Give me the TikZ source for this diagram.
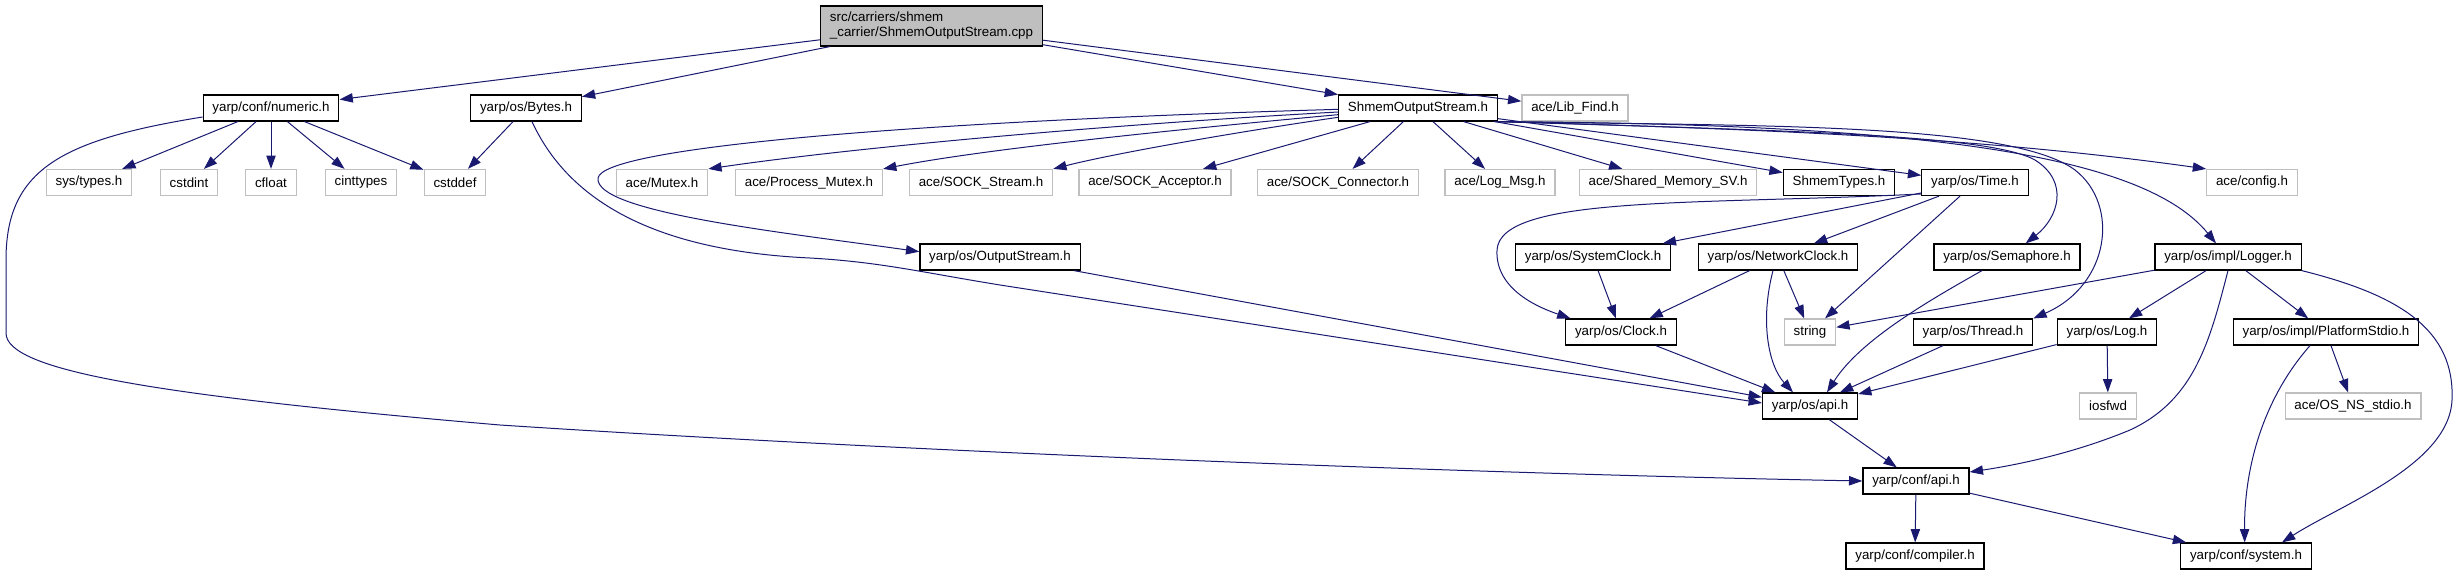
\documentclass[tikz,border=0pt]{standalone}
\usepackage{fontspec}
\setmainfont{Liberation Sans}
\usetikzlibrary{arrows.meta,calc,positioning}
\definecolor{edgeblue}{RGB}{25,25,112}
\definecolor{sysgray}{RGB}{191,191,191}

\begin{document}
\begin{tikzpicture}[x=0.75pt,y=-0.75pt,>={Triangle[length=10pt,width=7pt]},
  font=\fontsize{10}{11.25}\selectfont,
  hdr/.style={draw=black,line width=0.9pt,fill=white,inner xsep=7pt,inner ysep=0pt,minimum height=19.5pt},
  sysbox/.style={hdr,draw=sysgray},
  rootbox/.style={hdr,fill=sysgray,align=left,minimum height=30pt},
  edge/.style={->,edgeblue,line width=0.75pt}]
\useasboundingbox (0,0) rectangle (2456,575);

\node[rootbox] (root) at (931.5,26) {src/carriers/shmem\\\_carrier/ShmemOutputStream.cpp};

\node[hdr] (numeric) at (271,108) {yarp/conf/numeric.h};
\node[hdr] (bytes) at (526,108) {yarp/os/Bytes.h};
\node[hdr] (shmemh) at (1418,108) {ShmemOutputStream.h};
\node[sysbox] (libfind) at (1575,108) {ace/Lib\_Find.h};

\node[sysbox] (systypes) at (89,182.5) {sys/types.h};
\node[sysbox] (cstdint) at (189,182.5) {cstdint};
\node[sysbox] (cfloat) at (271,182.5) {cfloat};
\node[sysbox] (cinttypes) at (361,182.5) {cinttypes};
\node[sysbox] (cstddef) at (455,182.5) {cstddef};
\node[sysbox] (mutex) at (662,182.5) {ace/Mutex.h};
\node[sysbox] (procmutex) at (809,182.5) {ace/Process\_Mutex.h};
\node[sysbox] (sockstream) at (981,182.5) {ace/SOCK\_Stream.h};
\node[sysbox] (sockacc) at (1155,182.5) {ace/SOCK\_Acceptor.h};
\node[sysbox] (sockconn) at (1338,182.5) {ace/SOCK\_Connector.h};
\node[sysbox] (logmsg) at (1500,182.5) {ace/Log\_Msg.h};
\node[sysbox] (sharedmem) at (1668,182.5) {ace/Shared\_Memory\_SV.h};
\node[hdr] (shmemtypes) at (1839,182.5) {ShmemTypes.h};
\node[hdr] (time) at (1975,182.5) {yarp/os/Time.h};
\node[sysbox] (config) at (2252,182.5) {ace/config.h};

\node[hdr] (outstream) at (1000,257) {yarp/os/OutputStream.h};
\node[hdr] (sysclock) at (1593,257) {yarp/os/SystemClock.h};
\node[hdr] (netclock) at (1778,257) {yarp/os/NetworkClock.h};
\node[hdr] (semaphore) at (2007,257) {yarp/os/Semaphore.h};
\node[hdr] (logger) at (2228,257) {yarp/os/impl/Logger.h};

\node[hdr] (clock) at (1621,332) {yarp/os/Clock.h};
\node[sysbox] (string) at (1810,332) {string};
\node[hdr] (thread) at (1973,332) {yarp/os/Thread.h};
\node[hdr] (log) at (2107,332) {yarp/os/Log.h};
\node[hdr] (platstdio) at (2326,332) {yarp/os/impl/PlatformStdio.h};

\node[hdr] (osapi) at (1810,406) {yarp/os/api.h};
\node[sysbox] (iosfwd) at (2108,406) {iosfwd};
\node[sysbox] (osnsstdio) at (2353,406) {ace/OS\_NS\_stdio.h};

\node[hdr] (confapi) at (1916,481) {yarp/conf/api.h};

\node[hdr] (compiler) at (1915,556) {yarp/conf/compiler.h};
\node[hdr] (system) at (2246,556) {yarp/conf/system.h};

\foreach \a/\b in {root/numeric,root/bytes,root/shmemh,root/libfind,
  numeric/systypes,numeric/cstdint,numeric/cfloat,numeric/cinttypes,numeric/cstddef,
  bytes/cstddef,shmemh/sockacc,shmemh/sockconn,shmemh/logmsg,shmemh/sharedmem,
  shmemh/shmemtypes,shmemh/time,time/sysclock,time/netclock,time/string,
  sysclock/clock,netclock/clock,netclock/string,outstream/osapi,clock/osapi,
  thread/osapi,log/osapi,log/iosfwd,logger/string,logger/log,logger/platstdio,
  platstdio/osnsstdio,osapi/confapi,confapi/compiler,confapi/system}
  \draw[edge] (\a) -- (\b);

\draw[edge] ([yshift=-6.75pt]numeric.west) .. controls (60,140) and (6,170) .. (6,260) -- (6,333)
  .. controls (6,370) and (150,395) .. (500,425) .. controls (850,448) and (1400,472) .. (confapi.west);
\draw[edge] ([xshift=4.5pt]bytes.south) .. controls (575,215) and (680,252) .. (810,258)
  .. controls (880,262) and (920,272) .. (1000,285) -- ([yshift=2.25pt]osapi.west);
\draw[edge] ([yshift=-3pt]shmemh.west) .. controls (1100,125) and (850,148) .. (mutex.north east);
\draw[edge] ([yshift=-5pt]shmemh.west) .. controls (1150,132) and (980,150) .. (procmutex.north east);
\draw[edge] ([yshift=-7pt]shmemh.west) .. controls (1250,130) and (1120,152) .. (sockstream.north east);
\draw[edge] ([yshift=-1pt]shmemh.west) .. controls (900,122) and (603,148) .. (598,178)
  .. controls (594,212) and (780,232) .. ([yshift=4pt]outstream.west);
\draw[edge] ([xshift=-1pt]shmemh.south east) .. controls (1800,131) and (1990,135) .. (2035,160)
  .. controls (2070,182) and (2058,218) .. ([xshift=14pt]semaphore.north);
\draw[edge] ([xshift=-3pt]shmemh.south east) .. controls (1750,126) and (2010,122) .. (2075,170)
  .. controls (2120,205) and (2110,285) .. (thread.north east);
\draw[edge] ([xshift=-2pt]shmemh.south east) .. controls (1900,124) and (2140,150) .. ([xshift=-9pt]logger.north);
\draw[edge] (shmemh.south east) .. controls (1800,130) and (2000,140) .. (config.north west);
\draw[edge] ([yshift=-8.6pt]time.west) .. controls (1700,205) and (1500,195) .. (1497,250)
  .. controls (1495,290) and (1540,308) .. ([xshift=4pt]clock.north west);
\draw[edge] ([xshift=-3.75pt]netclock.south) .. controls (1760,320) and (1768,365) .. ([xshift=-12.75pt]osapi.north);
\draw[edge] ([xshift=-18.75pt]semaphore.south) .. controls (1930,300) and (1860,340) .. ([xshift=12.75pt]osapi.north);
\draw[edge] (logger.south) .. controls (2210,340) and (2195,400) .. (2130,430)
  .. controls (2070,455) and (2010,466) .. ([yshift=6.75pt]confapi.east);
\draw[edge] (logger.south east) .. controls (2400,295) and (2455,330) .. (2452,400)
  .. controls (2449,465) and (2340,505) .. ([xshift=27pt]system.north);
\draw[edge] ([xshift=-12pt]platstdio.south) .. controls (2262,400) and (2244,470) .. ([xshift=-1pt]system.north);
\end{tikzpicture}
\end{document}
